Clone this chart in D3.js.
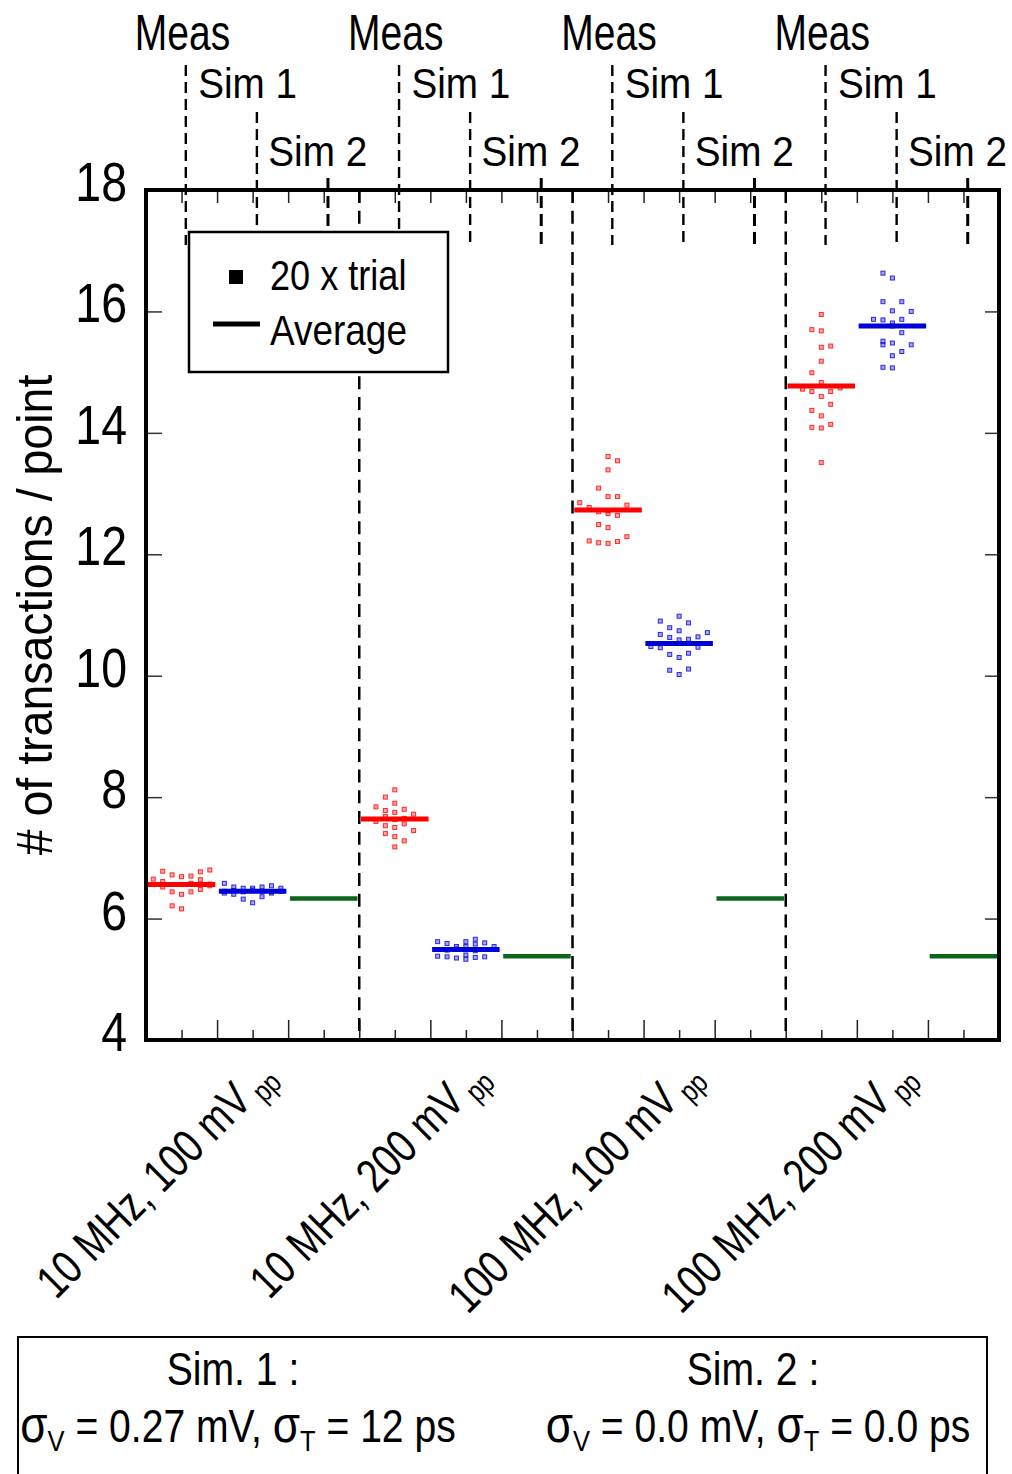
<!DOCTYPE html>
<html>
<head>
<meta charset="utf-8">
<script src="https://cdn.jsdelivr.net/npm/d3@7"></script>
<style>
  body { margin:0; background:#fff; }
  svg { display:block; }
  text { font-family:"Liberation Sans", Arial, sans-serif; fill:#000; }
</style>
</head>
<body>
<div id="content"></div>
<script>
// ---------------- data
const categories = ["10 MHz, 100 mV", "10 MHz, 200 mV", "100 MHz, 100 mV", "100 MHz, 200 mV"];
const series     = ["Meas", "Sim 1", "Sim 2"];
const yTicks     = [4, 6, 8, 10, 12, 14, 16, 18];

const measAvg = [6.56, 7.64, 12.73, 14.77];
const sim1Avg = [6.45, 5.49, 10.53, 15.76];
const sim2Avg = [6.33, 5.38, 6.33, 5.38];

// 20 trials per point, with the jitter column each one was drawn in
const measTrials = [
  [6.65, 6.78,6.61,6.52, 6.72,6.44,6.21, 6.69,6.40,6.16,6.56, 6.70,6.58,6.44, 6.77,6.64,6.48, 6.80,6.54,6.57],
  [8.12,8.00,7.90,7.84,7.80,7.78,7.75,7.72,7.68,7.65,7.63,7.60,7.56,7.53,7.50,7.45,7.40,7.35,7.28,7.18],
  [12.85, 12.77,12.22, 13.09,12.70,12.49,12.19, 13.61,13.39,12.95,12.67,12.44,12.18,12.72, 13.54,12.95,12.64,12.21, 12.81,12.29],
  [14.72, 15.70,14.99,14.68,14.37,14.09, 15.95,15.68,15.41,15.18,14.83,14.60,14.28,14.08,13.51, 15.43,14.68,14.47,14.14, 14.74]
];
const measJitter = [
  [-3, -2,-2,-2, -1,-1,-1, 0,0,0,0, 1,1,1, 2,2,2, 3,3,3],
  [0,-1,0,-2,1,-1,0,2,-1,1,0,-2,1,-1,0,2,-1,0,1,0],
  [-3, -2,-2, -1,-1,-1,-1, 0,0,0,0,0,0,0, 1,1,1,1, 2,2],
  [-2, -1,-1,-1,-1,-1, 0,0,0,0,0,0,0,0,0, 1,1,1,1, 2]
];
const sim1Trials = [
  [6.58,6.42,6.45, 6.52,6.40,6.46, 6.50,6.32,6.44, 6.50,6.26,6.47, 6.52,6.36,6.45, 6.54,6.42,6.44, 6.50,6.45],
  [5.62,5.38, 5.59,5.37,5.48, 5.54,5.35,5.50, 5.62,5.54,5.40,5.33,5.49, 5.66,5.58,5.36,5.47, 5.60,5.37, 5.54],
  [10.48, 10.90,10.68,10.46, 10.79,10.63,10.35,10.09, 10.98,10.74,10.59,10.30,10.02, 10.87,10.60,10.37,10.11, 10.64,10.47, 10.71],
  [15.87, 16.63,16.16,15.86,15.51,15.45,15.08, 16.55,16.01,15.81,15.48,15.27,15.07,15.76, 16.16,15.87,15.65,15.34, 16.00,15.45]
];
const sim1Jitter = [
  [-3,-3,-3, -2,-2,-2, -1,-1,-1, 0,0,0, 1,1,1, 2,2,2, 3,3],
  [-3,-3, -2,-2,-2, -1,-1,-1, 0,0,0,0,0, 1,1,1,1, 2,2, 3],
  [-3, -2,-2,-2, -1,-1,-1,-1, 0,0,0,0,0, 1,1,1,1, 2,2, 3],
  [-2, -1,-1,-1,-1,-1,-1, 0,0,0,0,0,0,0, 1,1,1,1, 2,2]
];

const sigmaText = [
  { title:"Sim. 1 :", v:" = 0.27 mV, ", t:" = 12 ps" },
  { title:"Sim. 2 :", v:" = 0.0 mV, ",  t:" = 0.0 ps" }
];

// ---------------- layout
const W = 1012, H = 1474;
const plot = { left:146, right:999, top:190, bottom:1040 };
const colors = ["#ff0000", "#0000d8", "#0b661c"];
const jitterStep = 0.265;

const x = d3.scaleLinear().domain([0, 24]).range([plot.left, plot.right]);
const y = d3.scaleLinear().domain([4, 18]).range([plot.bottom, plot.top]);
const pos = (c, s) => c*6 + 1 + s*2;   // x-position of series s in category c

const svg = d3.select("#content").append("svg")
    .attr("width", W).attr("height", H);

// condensed-looking text: translate + horizontal squeeze
function txt(g, str, px, py, size, sx, anchor){
  return g.append("text")
      .attr("transform", `translate(${px},${py}) scale(${sx},1)`)
      .attr("font-size", size)
      .attr("text-anchor", anchor || "middle")
      .text(str);
}

// ---------------- ticks (inside the frame)
const inner = d3.range(6, 17, 2);
svg.append("g").attr("transform", `translate(${plot.left},0)`)
    .call(d3.axisLeft(y).tickValues(inner).tickSize(-16).tickFormat(""))
    .call(g => g.select(".domain").remove())
    .call(g => g.selectAll("line").attr("stroke", "#333").attr("stroke-width", 1.5));
svg.append("g").attr("transform", `translate(${plot.right},0)`)
    .call(d3.axisRight(y).tickValues(inner).tickSize(-14).tickFormat(""))
    .call(g => g.select(".domain").remove())
    .call(g => g.selectAll("line").attr("stroke", "#333").attr("stroke-width", 1.5));
svg.append("g").attr("transform", `translate(0,${plot.bottom})`)
    .call(d3.axisBottom(x).tickValues(d3.range(1, 24)).tickSize(-10).tickFormat(""))
    .call(g => g.select(".domain").remove())
    .call(g => g.selectAll(".tick line")
        .attr("y2", d => d % 2 ? -10 : -20)
        .attr("stroke", "#222").attr("stroke-width", 1.5));
svg.append("g").attr("transform", `translate(0,${plot.top})`)
    .call(d3.axisTop(x).tickValues(d3.range(1, 24)).tickSize(-13).tickFormat(""))
    .call(g => g.select(".domain").remove())
    .call(g => g.selectAll("line").attr("stroke", "#222").attr("stroke-width", 1.5));

// y tick labels
yTicks.forEach(v => txt(svg, v, 127, y(v) + 11, 56, 0.83, "end"));

// y title
svg.append("text")
    .attr("transform", `translate(52,615) rotate(-90) scale(0.93,1)`)
    .attr("font-size", 50).attr("text-anchor", "middle")
    .text("# of transactions / point");

// ---------------- group separators and top pointers
const sep = svg.append("g").attr("stroke", "#000").attr("fill", "none");
[6, 12, 18].forEach(k => {
  sep.append("line")
      .attr("x1", x(k)).attr("x2", x(k))
      .attr("y1", plot.top).attr("y2", plot.bottom)
      .attr("stroke-width", 2.5).attr("stroke-dasharray", "13,7.7");
});

const labelBase = [50, 98, 166];
const lineTop   = [65, 112, 178];
const labelFont = [[50, 0.78, 1], [43, 0.9, -5], [43, 0.9, -6]];
categories.forEach((cat, c) => {
  series.forEach((name, s) => {
    const px = x(pos(c, s));
    const [fs, sx, dx] = labelFont[s];
    txt(svg, name, px + dx, labelBase[s], fs, sx, "middle");
    sep.append("line")
        .attr("x1", x(pos(c, s) + 0.12)).attr("x2", x(pos(c, s) + 0.12))
        .attr("y1", lineTop[s]).attr("y2", 245)
        .attr("stroke-width", s === 2 ? 3 : 2.4)
        .attr("stroke-dasharray", s === 2 ? "12,6" : "11,6");
  });
});

// ---------------- trial points
const pts = [];
[measTrials, sim1Trials].forEach((trials, s) => {
  const jit = s === 0 ? measJitter : sim1Jitter;
  trials.forEach((arr, c) => arr.forEach((v, i) =>
    pts.push({ s, c, v, j: jit[c][i] })));
});
svg.append("g").selectAll("rect.trial").data(pts).enter()
  .append("rect")
    .attr("class", "trial")
    .attr("x", d => x(pos(d.c, d.s) + d.j*jitterStep) - 2)
    .attr("y", d => y(d.v) - 2)
    .attr("width", 4).attr("height", 4)
    .attr("fill", d => colors[d.s]).attr("fill-opacity", 0.35)
    .attr("stroke", d => colors[d.s]).attr("stroke-width", 1)
    .attr("stroke-opacity", 0.8);

// ---------------- averages
const avgs = [];
[measAvg, sim1Avg, sim2Avg].forEach((arr, s) =>
  arr.forEach((v, c) => avgs.push({ s, c, v })));
svg.append("g").selectAll("line.avg").data(avgs).enter()
  .append("line")
    .attr("class", "avg")
    .attr("x1", d => x(pos(d.c, d.s) - 0.95))
    .attr("x2", d => x(pos(d.c, d.s) + 0.95))
    .attr("y1", d => y(d.v)).attr("y2", d => y(d.v))
    .attr("stroke", d => colors[d.s])
    .attr("stroke-width", d => d.s === 2 ? 4.5 : 5);

// ---------------- frame
svg.append("rect")
    .attr("x", plot.left).attr("y", plot.top)
    .attr("width", plot.right - plot.left).attr("height", plot.bottom - plot.top)
    .attr("fill", "none").attr("stroke", "#000").attr("stroke-width", 4);

// ---------------- legend
const leg = svg.append("g");
leg.append("rect").attr("x", 189).attr("y", 232).attr("width", 259).attr("height", 140)
    .attr("fill", "#fff").attr("stroke", "#000").attr("stroke-width", 2.5);
leg.append("rect").attr("x", 229).attr("y", 270).attr("width", 14).attr("height", 14).attr("fill", "#000");
leg.append("line").attr("x1", 213).attr("x2", 260).attr("y1", 324).attr("y2", 324)
    .attr("stroke", "#000").attr("stroke-width", 5);
txt(leg, "20 x trial", 270, 290, 42, 0.86, "start");
txt(leg, "Average", 270, 345, 42, 0.88, "start");

// ---------------- category labels (rotated)
categories.forEach((cat, c) => {
  const t = svg.append("text")
      .attr("transform", `translate(${x(pos(c, 1)) + 25},1079) rotate(-45) scale(0.8,1)`)
      .attr("font-size", 47).attr("text-anchor", "end");
  t.append("tspan").text(cat);
  t.append("tspan").attr("font-size", 30).attr("dy", 8).text(" pp");
});

// ---------------- simulation parameter box
svg.append("rect").attr("x", 18).attr("y", 1337).attr("width", 969).attr("height", 160)
    .attr("fill", "none").attr("stroke", "#000").attr("stroke-width", 2);
[238, 758].forEach((cx, i) => {
  const d = sigmaText[i];
  txt(svg, d.title, cx - 5, 1385, 46, 0.85, "middle");
  const t = svg.append("text")
      .attr("transform", `translate(${cx},1442) scale(0.85,1)`)
      .attr("font-size", 46).attr("text-anchor", "middle");
  t.append("tspan").attr("font-size", 52).text("σ");
  t.append("tspan").attr("font-size", 30).attr("dy", 9).text("V");
  t.append("tspan").attr("dy", -9).text(d.v);
  t.append("tspan").attr("font-size", 52).text("σ");
  t.append("tspan").attr("font-size", 30).attr("dy", 9).text("T");
  t.append("tspan").attr("dy", -9).text(d.t);
});
</script>
</body>
</html>
